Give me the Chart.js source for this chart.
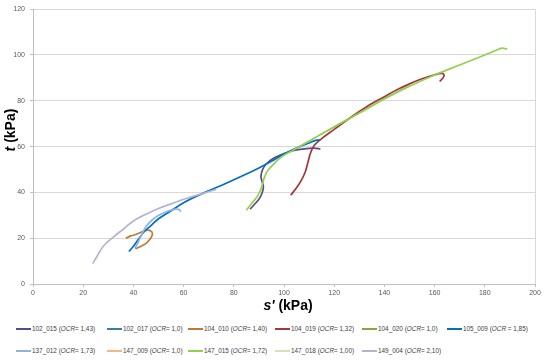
<!DOCTYPE html>
<html>
<head>
<meta charset="utf-8">
<script src="https://cdn.jsdelivr.net/npm/chart.js@4"></script>
<style>
  body { margin: 0; background: #fff; font-family: "Liberation Sans", Arial, sans-serif; }
  #wrap { position: relative; width: 546px; height: 361px; }
  #graphe { position: absolute; left: 0; top: 0; }
  .leg { position: absolute; font-size: 6.4px; color: #404040; white-space: nowrap; line-height: 8px; }
  .leg i.trait { display: inline-block; width: 15px; height: 2px; vertical-align: middle; margin-right: 1px; margin-top: -1px; }
</style>
</head>
<body>
<div id="wrap">
  <canvas id="graphe" width="546" height="315"></canvas>
</div>
<script>
// valeurs (s' et t en kPa)
var noms = ["102_015", "102_017", "104_010", "104_019", "104_020", "105_009",
            "137_012", "147_009", "147_015", "147_018", "149_004"];
var ocr = ["1,43", "1,0", "1,40", "1,32", "1,0", "1,85", "1,73", "1,0", "1,72", "1,00", "2,10"];
var couleurs = ["#5a4a86", "#31849b", "#c07a35", "#a4373a", "#86a63f", "#0070c0",
                "#8db3e2", "#fab382", "#92d050", "#d0e3b0", "#b8b2d0"];

var s_102_015 = [86.5, 88, 90, 91.2, 91.8, 91.2, 90.8, 91.5, 93, 96, 100, 104, 108, 112, 114.5];
var t_102_015 = [32.7, 34.5, 37, 39.5, 42.5, 45, 47, 50, 52.5, 55, 57, 58.3, 59, 59.3, 59];

var s_102_017 = [40, 42, 44, 47, 50, 55, 60];
var t_102_017 = [16.5, 19.5, 22.5, 25.5, 28.5, 32, 35.5];

var s_104_010 = [37, 39, 41, 43, 45, 46.8, 47.6, 47, 45.3, 43, 40.8];
var t_104_010 = [20, 21, 21.6, 22.6, 23.4, 23.3, 22, 20.2, 18, 16.5, 15.3];

var s_104_019 = [102.7, 105, 107, 108.5, 109.5, 110.5, 112, 115, 120, 125, 130, 135, 140, 145, 150, 155, 160, 163, 163.8, 163, 162];
var t_104_019 = [38.8, 42, 45.5, 49, 53, 57, 60.5, 63.5, 67.5, 71.5, 75.3, 78.8, 81.8, 84.8, 87.4, 89.6, 91.3, 92, 91, 89.5, 88.5];

var s_104_020 = [100, 110, 120, 130, 140, 150];
var t_104_020 = [56.5, 62.5, 68.8, 75, 81.2, 86.8];

var s_105_009 = [38.2, 40, 42, 44, 47, 50, 55, 60, 66, 75, 85, 90, 95, 100, 105, 110, 113, 114.5];
var t_105_009 = [14.2, 16.5, 19.5, 22.5, 25.5, 28.5, 32, 35.5, 38.8, 43, 48, 50.7, 53.6, 56.8, 59.4, 61.6, 62.8, 63];

var s_137_012 = [40.6, 42, 43.3, 45, 48, 52, 56, 58, 59];
var t_137_012 = [15.5, 18.5, 21.5, 25, 28.5, 31, 32.6, 32.6, 31.6];

var s_147_009 = [32, 36, 40, 45];
var t_147_009 = [20.5, 24, 27.5, 30.5];

var s_147_015 = [85, 87, 89.5, 91, 92, 93.5, 96, 99, 103, 107, 111, 115, 120, 130, 140, 150, 160, 170, 180, 185, 187, 189];
var t_147_015 = [32.2, 35, 38.5, 42, 46, 49.5, 52.5, 55.5, 58, 60.5, 63, 65.5, 68.6, 74.6, 80.8, 86.4, 91.3, 95.6, 100, 102.3, 103, 102.5];

var s_147_018 = [50, 55, 60];
var t_147_018 = [33, 35, 37];

var s_149_004 = [23.8, 26, 28, 32, 36, 40, 45, 50, 55, 60, 66, 73];
var t_149_004 = [8.9, 13, 16.5, 20.5, 24, 27.5, 30.5, 33, 35, 37, 39, 41.3];

var lesS = [s_102_015, s_102_017, s_104_010, s_104_019, s_104_020, s_105_009, s_137_012, s_147_009, s_147_015, s_147_018, s_149_004];
var lesT = [t_102_015, t_102_017, t_104_010, t_104_019, t_104_020, t_105_009, t_137_012, t_147_009, t_147_015, t_147_018, t_149_004];
// séries cachées sous d'autres courbes : trait plus fin
var cachees = ["102_017", "104_020", "147_009", "147_018"];

var ticksS = [0, 20, 40, 60, 80, 100, 120, 140, 160, 180, 200];
var ticksT = [0, 20, 40, 60, 80, 100, 120];

function points(s, t) {
  return s.map(function(v, i) { return { x: v, y: t[i] }; });
}

var datasets = noms.map(function(nom, i) {
  return {
    label: nom + " (OCR= " + ocr[i] + ")",
    data: points(lesS[i], lesT[i]),
    borderColor: couleurs[i],
    backgroundColor: couleurs[i],
    borderWidth: cachees.indexOf(nom) >= 0 ? 0.8 : 1.7,
    showLine: true,
    pointRadius: 0,
    tension: cachees.indexOf(nom) >= 0 ? 0 : 0.35,
    order: noms.length - i
  };
});

// titres des axes avec la variable en italique
var titresAxes = {
  id: "titresAxes",
  afterDraw: function(chart) {
    var c = chart.ctx;
    c.save();
    c.fillStyle = "#000";
    c.textBaseline = "middle";
    c.textAlign = "left";
    var f1 = "italic bold 14px 'Liberation Sans', Arial";
    var f2 = "bold 14px 'Liberation Sans', Arial";
    c.font = f1; var w1 = c.measureText("s'").width;
    c.font = f2; var w2 = c.measureText(" (kPa)").width;
    var x0 = 288 - (w1 + w2) / 2, y0 = 306;
    c.font = f1; c.fillText("s'", x0, y0);
    c.font = f2; c.fillText(" (kPa)", x0 + w1, y0);

    c.translate(11, 130);
    c.rotate(-Math.PI / 2);
    c.font = f1; w1 = c.measureText("t").width;
    c.font = f2; w2 = c.measureText(" (kPa)").width;
    x0 = -(w1 + w2) / 2;
    c.font = f1; c.fillText("t", x0, 0);
    c.font = f2; c.fillText(" (kPa)", x0 + w1, 0);
    c.restore();
  }
};

var ctx = document.getElementById("graphe").getContext("2d");
var graphe = new Chart(ctx, {
  type: "scatter",
  data: { datasets: datasets },
  options: {
    animation: false,
    responsive: false,
    layout: { padding: { left: 0, right: 11, top: 2, bottom: 0 } },
    plugins: { legend: { display: false }, tooltip: { enabled: false } },
    scales: {
      x: {
        min: 0, max: 200,
        afterBuildTicks: function(axis) { axis.ticks = ticksS.map(function(v) { return { value: v }; }); },
        afterFit: function(axis) { axis.height = 31; },
        grid: {
          color: function(c) { return c.tick && c.tick.value === 200 ? "#d9d9d9" : "rgba(0,0,0,0)"; },
          tickColor: "#bfbfbf", tickLength: 3, drawTicks: true
        },
        border: { color: "#bfbfbf" },
        ticks: { color: "#595959", font: { size: 7, family: "'Liberation Sans', Arial" }, padding: 2, maxRotation: 0 }
      },
      y: {
        min: 0, max: 120,
        afterBuildTicks: function(axis) { axis.ticks = ticksT.map(function(v) { return { value: v }; }); },
        afterFit: function(axis) { axis.width = 33; },
        grid: { color: "#d9d9d9", tickColor: "#bfbfbf", tickLength: 3 },
        border: { color: "#bfbfbf" },
        ticks: { color: "#595959", font: { size: 7, family: "'Liberation Sans', Arial" }, padding: 5 }
      }
    }
  },
  plugins: [titresAxes]
});

// légende sur deux lignes, colonnes fixes comme la figure
var colonnes = [16, 107, 188, 275, 362, 447];
var wrap = document.getElementById("wrap");
noms.forEach(function(nom, i) {
  var d = document.createElement("div");
  d.className = "leg";
  d.style.left = colonnes[i % 6] + "px";
  d.style.top = (i < 6 ? 325 : 347) + "px";
  var sep = nom === "105_009" ? " (<i>OCR</i> = " : " (<i>OCR</i>= ";
  d.innerHTML = '<i class="trait" style="background:' + couleurs[i] + '"></i>' + nom + sep + ocr[i] + ")";
  wrap.appendChild(d);
});
</script>
</body>
</html>
